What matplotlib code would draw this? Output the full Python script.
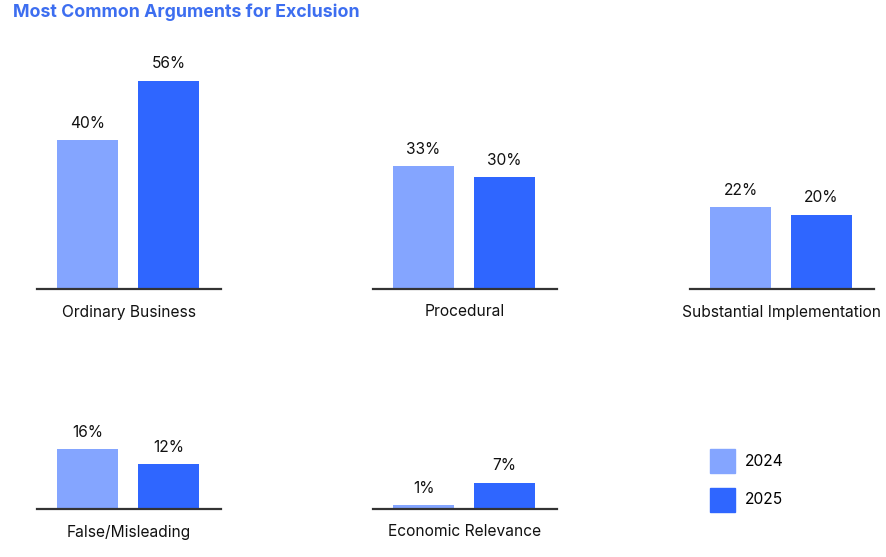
import matplotlib.pyplot as plt
from matplotlib.patches import Patch

plt.rcParams['font.family'] = ['Inter', 'DejaVu Sans']

categories = ['Ordinary Business', 'Procedural', 'Substantial Implementation',
              'False/Misleading', 'Economic Relevance']
values_2024 = [40, 33, 22, 16, 1]
values_2025 = [56, 30, 20, 12, 7]
years = ['2024', '2025']

color_2024 = '#84a5ff'
color_2025 = '#2f66ff'
title_color = '#3d6ef0'

W, H = 887, 557
fig = plt.figure(figsize=(W / 100, H / 100), dpi=100)

# panel placement in pixels: left edge, baseline y, top y
panels = [(37, 289, 40), (373, 289, 40), (690, 289, 40),
          (37, 509, 420), (373, 509, 420)]
px_per_pct = 3.72
panel_w = 184

for i, (x0, yb, yt) in enumerate(panels):
    h = yb - yt
    ax = fig.add_axes([x0 / W, (H - yb) / H, panel_w / W, h / H])
    vals = [values_2024[i], values_2025[i]]
    ax.bar([0, 1], vals, width=0.753, color=[color_2024, color_2025], zorder=1)
    for xi, v in zip([0, 1], vals):
        ax.text(xi, v + 17 / px_per_pct, f'{v}%', ha='center', va='center',
                fontsize=11.2, color='#111111')
    ax.set_xlim(-0.625, 1.648)
    ax.set_ylim(0, h / px_per_pct)
    for s in ['top', 'right', 'left']:
        ax.spines[s].set_visible(False)
    ax.spines['bottom'].set_color('#333333')
    ax.spines['bottom'].set_linewidth(1.6)
    ax.spines['bottom'].set_zorder(3)
    ax.set_yticks([])
    ax.set_xticks([])
    ax.text(0.5, -23 / h, categories[i], transform=ax.transAxes,
            ha='center', va='center', fontsize=11.2, color='#111111')

fig.text(13 / W, 1 - 12 / H, 'Most Common Arguments for Exclusion',
         ha='left', va='center', fontsize=12.8, fontweight='bold', color=title_color)

handles = [Patch(color=color_2024), Patch(color=color_2025)]
fig.legend(handles, years, loc='upper left', bbox_to_anchor=(710 / W, 1 - 449 / H),
           frameon=False, fontsize=11.2, handlelength=1.6, handleheight=2.0,
           labelspacing=0.93, handletextpad=0.65, borderaxespad=0, borderpad=0)

fig.savefig('out.png', dpi=100)
